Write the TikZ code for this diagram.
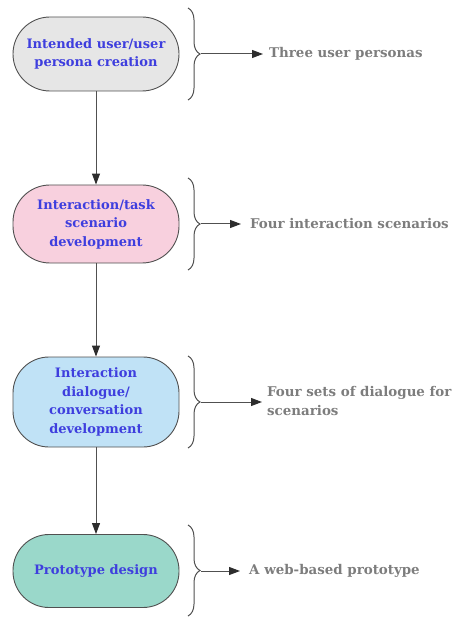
\documentclass[tikz,border=0pt]{standalone}
\usepackage{fontspec}
\setmainfont{DejaVu Serif}
\usetikzlibrary{arrows.meta,decorations.pathreplacing}
\definecolor{txtblue}{RGB}{62,62,222}
\definecolor{txtgray}{RGB}{125,125,125}
\definecolor{edge}{RGB}{80,80,80}
\definecolor{tipc}{RGB}{45,45,45}
\definecolor{fillA}{RGB}{230,230,230}
\definecolor{fillB}{RGB}{248,208,222}
\definecolor{fillC}{RGB}{192,226,246}
\definecolor{fillD}{RGB}{154,216,202}
\tikzset{
  stage/.style={draw=edge, line width=0.9pt, minimum width=166pt, align=center,
    text=txtblue, font=\fontsize{13}{18.5}\selectfont\bfseries, inner sep=2pt},
  outcome/.style={anchor=west, text=txtgray, align=left, inner sep=0pt,
    font=\fontsize{13.4}{19.5}\selectfont\bfseries},
  flow/.style={draw=edge, line width=1pt, -{Triangle[length=11pt,width=8pt,color=tipc]}},
  bracegroup/.style={draw=edge, line width=1pt, decorate,
    decoration={brace, amplitude=12pt, aspect=0.5}},
}
\begin{document}
\begin{tikzpicture}[x=1pt,y=-1pt]
\useasboundingbox (0,0) rectangle (455,617);
% stages
\node[stage, fill=fillA, minimum height=74pt, rounded corners=37pt] (s1) at (96,54) {Intended user/user\\persona creation};
\node[stage, fill=fillB, minimum height=78pt, rounded corners=37pt] (s2) at (96,224) {Interaction/task\\scenario\\development};
\node[stage, fill=fillC, minimum height=90pt, rounded corners=36pt] (s3) at (96,402) {Interaction\\dialogue/\\conversation\\development};
\node[stage, fill=fillD, minimum height=73pt, rounded corners=36pt] (s4) at (96,571) {Prototype design};
% flow arrows
\draw[flow] (s1) -- (s2);
\draw[flow] (s2) -- (s3);
\draw[flow] (s3) -- (s4);
% braces
\coordinate (b1t) at (188,8);   \coordinate (b1b) at (188,100);
\coordinate (b2t) at (188,178); \coordinate (b2b) at (188,270);
\coordinate (b3t) at (188,356); \coordinate (b3b) at (188,448);
\coordinate (b4t) at (188,525); \coordinate (b4b) at (188,616);
\draw[bracegroup] (b1t) -- (b1b);
\draw[bracegroup] (b2t) -- (b2b);
\draw[bracegroup] (b3t) -- (b3b);
\draw[bracegroup] (b4t) -- (b4b);
\coordinate (t1) at (201,54);
\coordinate (t2) at (201,224);
\coordinate (t3) at (201,402);
\coordinate (t4) at (201,571);
% outcomes
\node[outcome] (o1) at (269,54) {Three user personas};
\node[outcome] (o2) at (250,224) {Four interaction scenarios};
\node[outcome] (o3) at (267,401) {Four sets of dialogue for\\scenarios};
\node[outcome] (o4) at (249,571) {A web-based prototype};
\draw[flow] (t1) -- ([xshift=-6pt]o1.west);
\draw[flow] (t2) -- ([xshift=-9pt]o2.west);
\draw[flow] (t3) -- ([xshift=-5pt]t3 -| o3.west);
\draw[flow] (t4) -- ([xshift=-9pt]o4.west);
\end{tikzpicture}
\end{document}
